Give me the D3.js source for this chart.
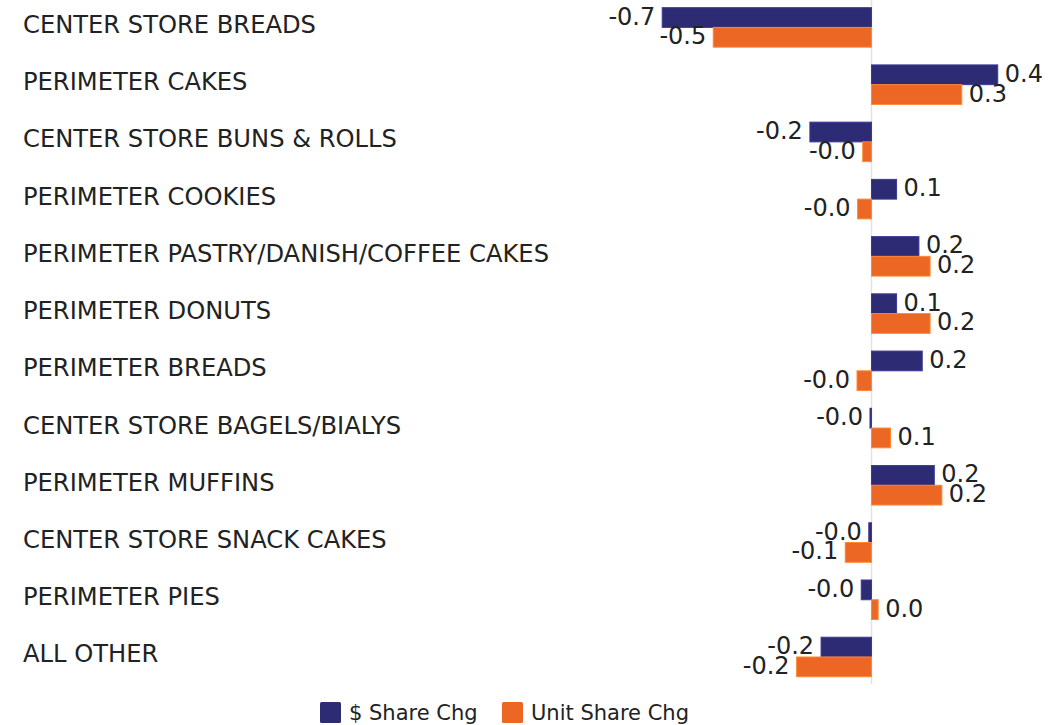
<!DOCTYPE html>
<html>
<head>
<meta charset="utf-8">
<script src="https://cdn.jsdelivr.net/npm/d3@7"></script>
<style>
  html, body { margin: 0; padding: 0; background: #ffffff; }
  svg { display: block; font-family: "DejaVu Sans", sans-serif; }
</style>
</head>
<body>
<svg id="chart" width="1063" height="725"></svg>
<script>
// Bakery category share changes, $ share vs unit share (pts)
const categories = [
  "CENTER STORE BREADS",
  "PERIMETER CAKES",
  "CENTER STORE BUNS & ROLLS",
  "PERIMETER COOKIES",
  "PERIMETER PASTRY/DANISH/COFFEE CAKES",
  "PERIMETER DONUTS",
  "PERIMETER BREADS",
  "CENTER STORE BAGELS/BIALYS",
  "PERIMETER MUFFINS",
  "CENTER STORE SNACK CAKES",
  "PERIMETER PIES",
  "ALL OTHER"
];
const dollarShareChg = [-0.693, 0.418, -0.204, 0.083, 0.157, 0.083, 0.168, -0.005, 0.208, -0.009, -0.034, -0.167];
const unitShareChg   = [-0.524, 0.299, -0.029, -0.046, 0.194, 0.194, -0.048, 0.063, 0.233, -0.087, 0.022, -0.248];
const seriesNames = ["$ Share Chg", "Unit Share Chg"];
const seriesColors = ["#2d2b73", "#ec6624"];

const rows = categories.map((c, i) => ({
  category: c,
  values: [dollarShareChg[i], unitShareChg[i]]
}));

const svg = d3.select("#chart");

const x = d3.scaleLinear().domain([0, 1]).range([871.5, 1173.5]);
const y = d3.scaleBand()
  .domain(categories)
  .range([-1.2, 685.6])
  .paddingInner(0.31)
  .paddingOuter(0.155);
const ySub = d3.scaleBand()
  .domain([0, 1])
  .range([0, y.bandwidth()]);

// one decimal, plain hyphen, keeps the sign of small negatives ("-0.0")
const fmt = v => v.toFixed(1);

// zero reference line
svg.append("line")
  .attr("x1", x(0)).attr("x2", x(0))
  .attr("y1", 0).attr("y2", 684)
  .attr("stroke", "#e3e3e3")
  .attr("stroke-width", 1.5);

// category labels
svg.append("g")
  .selectAll("text")
  .data(categories)
  .join("text")
  .attr("x", 23)
  .attr("y", d => y(d) + y.bandwidth() / 2 - 2.5)
  .attr("dominant-baseline", "central")
  .attr("font-size", 24.2)
  .attr("fill", "#222222")
  .text(d => d);

const groups = svg.append("g")
  .selectAll("g")
  .data(rows)
  .join("g")
  .attr("transform", d => `translate(0,${y(d.category)})`);

groups.selectAll("rect")
  .data(d => d.values.map((v, k) => ({ v, k })))
  .join("rect")
  .attr("x", d => x(Math.min(0, d.v)))
  .attr("y", d => ySub(d.k))
  .attr("width", d => Math.abs(x(d.v) - x(0)))
  .attr("height", ySub.bandwidth())
  .attr("fill", d => seriesColors[d.k])
  .attr("stroke", d => d3.color(seriesColors[d.k]).brighter(0.8))
  .attr("stroke-width", 1);

groups.selectAll("text")
  .data(d => d.values.map((v, k) => ({ v, k })))
  .join("text")
  .attr("x", d => d.v >= 0 ? x(d.v) + 7 : x(d.v) - 7)
  .attr("y", d => ySub(d.k) + ySub.bandwidth() / 2 - 1)
  .attr("text-anchor", d => d.v >= 0 ? "start" : "end")
  .attr("dominant-baseline", "central")
  .attr("font-size", 24)
  .attr("fill", "#222222")
  .text(d => fmt(d.v));

// legend
const legend = svg.append("g").attr("transform", "translate(320,702)");
const legendX = [0, 182];
seriesNames.forEach((name, k) => {
  const g = legend.append("g").attr("transform", `translate(${legendX[k]},0)`);
  g.append("rect")
    .attr("width", 21).attr("height", 21).attr("rx", 1.5)
    .attr("fill", seriesColors[k]);
  g.append("text")
    .attr("x", 29).attr("y", 11)
    .attr("dominant-baseline", "central")
    .attr("font-size", 21)
    .attr("fill", "#222222")
    .text(name);
});
</script>
</body>
</html>
